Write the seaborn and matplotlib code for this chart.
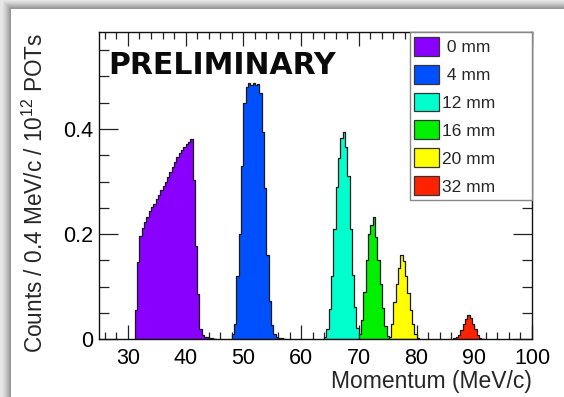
import numpy as np
import pandas as pd
import matplotlib
matplotlib.use("Agg")
import matplotlib.pyplot as plt
from matplotlib.patches import Patch, Rectangle
from matplotlib.ticker import MultipleLocator
import seaborn as sns

# Momentum spectra per 0.4 MeV/c bin, normalised per 10^12 POTs
BIN_WIDTH = 0.4

labels = [" 0 mm", " 4 mm", "12 mm", "16 mm", "20 mm", "32 mm"]
colors = ["#8a00ff", "#0050ff", "#00ffcc", "#00f000", "#ffff00", "#ff2200"]

start_0mm = 31.2
counts_0mm = [0.055, 0.147, 0.196, 0.212, 0.223, 0.233, 0.243, 0.251, 0.258,
              0.266, 0.275, 0.283, 0.291, 0.300, 0.309, 0.318, 0.327, 0.337,
              0.346, 0.354, 0.360, 0.366, 0.371, 0.376, 0.381, 0.303, 0.178,
              0.087, 0.020, 0.009, 0.005, 0.004, 0.003, 0.002, 0.001]

start_4mm = 48.0
counts_4mm = [0.010, 0.030, 0.120, 0.200, 0.330, 0.450, 0.479, 0.487, 0.484,
              0.488, 0.483, 0.485, 0.469, 0.395, 0.288, 0.161, 0.072, 0.027,
              0.010, 0.005, 0.003, 0.002, 0.001]

start_12mm = 64.0
counts_12mm = [0.004, 0.020, 0.058, 0.120, 0.210, 0.290, 0.345, 0.383, 0.395,
               0.365, 0.310, 0.210, 0.122, 0.062, 0.022, 0.006]

start_16mm = 70.0
counts_16mm = [0.010, 0.036, 0.090, 0.150, 0.201, 0.217, 0.232, 0.195, 0.150,
               0.105, 0.060, 0.025, 0.006]

start_20mm = 75.2
counts_20mm = [0.005, 0.030, 0.070, 0.105, 0.135, 0.160, 0.148, 0.120, 0.088,
               0.055, 0.030, 0.010, 0.003]

start_32mm = 86.4
counts_32mm = [0.002, 0.005, 0.009, 0.017, 0.029, 0.039, 0.046, 0.040, 0.030,
               0.019, 0.009, 0.003, 0.001]

starts = [start_0mm, start_4mm, start_12mm, start_16mm, start_20mm, start_32mm]
series = [counts_0mm, counts_4mm, counts_12mm, counts_16mm, counts_20mm, counts_32mm]

x_ticks = [30, 40, 50, 60, 70, 80, 90, 100]
y_ticks = [0.0, 0.2, 0.4]
y_tick_labels = ["0", "0.2", "0.4"]

sns.set_theme(style="ticks")
plt.rcParams["font.family"] = ["Liberation Sans", "DejaVu Sans"]
plt.rcParams["mathtext.fontset"] = "custom"
plt.rcParams["mathtext.rm"] = "Liberation Sans"

W, H = 564, 397
fig = plt.figure(figsize=(W / 100, H / 100), dpi=100)
fig.patch.set_facecolor("white")


def fig_rect(x0, y0, w, h, color):
    """Rectangle in pixel coordinates measured from the top-left corner."""
    fig.add_artist(Rectangle((x0 / W, 1 - (y0 + h) / H), w / W, h / H,
                             transform=fig.transFigure, color=color, lw=0, zorder=-10))


# grey window border with a soft shadow along the top and left edges
shades = ["#e6e6e6", "#dedede", "#d6d6d6", "#cdcdcd", "#c3c3c3", "#b8b8b8",
          "#acacac", "#a0a0a0", "#969696"]
for i, c in enumerate(shades):
    fig_rect(0, i, W, 1, c)
for i, c in enumerate(shades):
    fig_rect(i + 2, i, 1, H, c)
fig_rect(0, 0, 2, H, shades[0])
fig_rect(11, 9, W - 11, H - 9, "white")

ax = fig.add_axes([99 / W, 1 - 339.3 / H, (532 - 99) / W, (339.3 - 32.3) / H])
ax.set_facecolor("white")

for start, vals, color in zip(starts, series, colors):
    vals = np.asarray(vals)
    lo = start
    hi = start + BIN_WIDTH * len(vals)
    centers = lo + BIN_WIDTH * (np.arange(len(vals)) + 0.5)
    df = pd.DataFrame({"momentum": centers, "counts": vals})
    sns.histplot(data=df, x="momentum", weights="counts", binwidth=BIN_WIDTH,
                 binrange=(lo, hi), element="step", fill=True, color=color,
                 alpha=1.0, edgecolor="#1a1a1a", linewidth=0.9, ax=ax)

ax.set_xlim(25, 100)
ax.set_ylim(0, 0.5837)
ax.set_xticks(x_ticks)
ax.set_xticklabels([str(v) for v in x_ticks])
ax.xaxis.set_minor_locator(MultipleLocator(2))
ax.set_yticks(y_ticks)
ax.set_yticklabels(y_tick_labels)
ax.yaxis.set_minor_locator(MultipleLocator(0.05))

for s in ax.spines.values():
    s.set_visible(True)
    s.set_linewidth(1.0)
    s.set_color("#111111")

ax.tick_params(axis="both", which="both", direction="in", top=True, right=True,
               colors="#222222", labelcolor="black", width=0.9)
ax.tick_params(axis="x", which="major", length=10, labelsize=15.5, pad=6)
ax.tick_params(axis="x", which="minor", length=5)
ax.tick_params(axis="y", which="major", length=14, labelsize=15.5, pad=4)
ax.tick_params(axis="y", which="minor", length=7)

ax.set_xlabel("Momentum (MeV/c)", fontsize=16.5, ha="right", va="top")
ax.xaxis.set_label_coords(1.0, -0.1)
ax.set_ylabel(r"Counts / 0.4 MeV/c / 10$^{12}$ POTs", fontsize=16.3)
ax.yaxis.set_label_coords(-0.118, 0.476)

ax.text(0.022, 0.893, "PRELIMINARY", transform=ax.transAxes, fontsize=21.5,
        fontweight="bold", family="DejaVu Sans", color="#0a0a0a", va="center", ha="left")

# legend box spanning the upper-right corner of the frame
leg_x0 = (410 - 99) / 433
handles = [Patch(facecolor=c, edgecolor="#333333", linewidth=0.9) for c in colors]
leg = ax.legend(handles, labels, loc="upper right",
                bbox_to_anchor=(leg_x0, 0.0, 1.0 - leg_x0, 1.0), mode="expand",
                borderaxespad=0.0, fontsize=12.5, frameon=True, fancybox=False,
                handlelength=1.4, handleheight=1.3, handletextpad=0.2,
                labelspacing=0.52, borderpad=0.25)
frame = leg.get_frame()
frame.set_edgecolor("#888888")
frame.set_linewidth(1.0)
frame.set_alpha(1.0)

fig.savefig("out.png", dpi=100)
